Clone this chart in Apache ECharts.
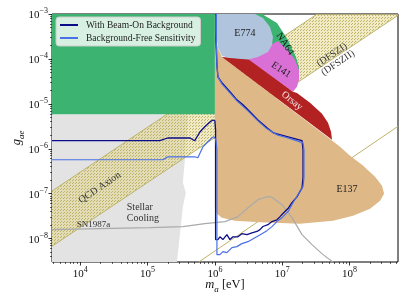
<!DOCTYPE html>
<html><head><meta charset="utf-8">
<script src="https://cdn.jsdelivr.net/npm/echarts@6/dist/echarts.min.js"></script>
<style>html,body{margin:0;padding:0;background:#fff}#c{width:407px;height:305px}</style>
</head><body><div id="c"></div>
<script>
// all values are log10(m_a / eV) and log10(g_ae)
const X_RANGE = [3.58, 8.72];
const Y_RANGE = [-8.52, -3.0];
const xMajor = [4, 5, 6, 7, 8];
const yMajor = [-8, -7, -6, -5, -4, -3];

const withBackground = [[3.58,-5.82],[5.18,-5.82],[5.30,-5.76],[5.63,-5.76],[5.70,-5.82],[5.78,-5.62],[5.85,-5.51],[5.93,-5.40],[5.97,-5.36],[6.00,-5.38],[6.01,-5.58],[6.01,-8.02],[6.045,-8.02],[6.074,-7.96],[6.119,-8.02],[6.178,-7.91],[6.223,-8.02],[6.268,-7.96],[6.342,-7.96],[6.401,-7.89],[6.476,-7.91],[6.55,-7.87],[6.625,-7.84],[6.669,-7.80],[6.714,-7.73],[6.788,-7.69],[6.848,-7.62],[6.922,-7.58],[6.967,-7.51],[7.011,-7.44],[7.086,-7.33],[7.145,-7.20],[7.219,-7.07],[7.294,-6.87],[7.309,-6.64],[7.309,-6.02],[7.294,-5.82],[7.086,-5.733],[6.922,-5.67],[6.862,-5.64],[6.773,-5.53],[6.639,-5.36],[6.491,-5.13],[6.416,-5.02],[6.327,-4.91],[6.223,-4.73],[6.104,-4.53],[6.045,-4.40],[6.03,-4.13],[6.015,-3.58],[6.015,-3.0]];
const backgroundFree = [[3.58,-6.244],[5.227,-6.244],[5.301,-6.178],[5.703,-6.178],[5.747,-6.2],[5.822,-5.956],[5.896,-5.844],[5.955,-5.756],[5.985,-5.733],[6.015,-5.8],[6.03,-6.022],[6.03,-8.356],[6.074,-8.356],[6.119,-8.289],[6.178,-8.311],[6.253,-8.2],[6.327,-8.178],[6.401,-8.111],[6.491,-8.067],[6.595,-7.978],[6.699,-7.889],[6.773,-7.822],[6.848,-7.733],[6.922,-7.622],[7.011,-7.511],[7.086,-7.4],[7.16,-7.2],[7.234,-7.022],[7.309,-6.844],[7.323,-6.644],[7.323,-6.022],[7.309,-5.867],[7.086,-5.756],[6.922,-5.689],[6.773,-5.556],[6.639,-5.378],[6.491,-5.156],[6.327,-4.933],[6.223,-4.756],[6.104,-4.556],[6.045,-4.4],[6.03,-4.133],[6.022,-3.578],[6.022,-3.0]];
const sn1987a = [[3.58,-7.8],[4.29,-7.778],[5.033,-7.756],[5.524,-7.733],[5.851,-7.667],[6.149,-7.622],[6.342,-7.511],[6.491,-7.311],[6.639,-7.133],[6.773,-7.067],[6.848,-7.078],[6.996,-7.244],[7.145,-7.533],[7.294,-7.911],[7.442,-8.133],[7.606,-8.356],[7.755,-8.52]];
const qcdUpper = [[3.58,-6.94],[7.52,-3.0]];
const qcdLower = [[3.58,-8.17],[8.72,-3.03]];
const qcdBand = [[3.58,-6.94],[7.52,-3.0],[8.72,-3.0],[8.72,-3.03],[3.58,-8.17]];
const axionLine2 = [[5.76,-8.52],[8.72,-5.5]];
const stellar = [[3.58,-5.23],[5.60,-5.23],[5.554,-6.244],[5.524,-6.756],[5.569,-6.978],[5.524,-7.289],[5.48,-7.911],[5.435,-8.52],[3.58,-8.52]];
const greenMain = [[3.58,-5.23],[6.0,-5.23],[6.0,-3.0],[3.58,-3.0]];
const e137 = [[6.0,-3.0],[6.0,-7.311],[6.03,-7.444],[6.104,-7.533],[6.297,-7.6],[6.669,-7.633],[7.264,-7.667],[7.755,-7.6],[8.052,-7.489],[8.305,-7.333],[8.454,-7.156],[8.513,-7.0],[8.483,-6.822],[8.379,-6.622],[8.186,-6.356],[8.007,-6.156],[7.859,-5.956],[7.725,-5.8],[6.104,-3.956],[6.03,-3.689],[6.0,-3.356]];
const orsay = [[6.104,-3.956],[6.52,-4.0],[7.16,-4.733],[7.219,-4.76],[7.413,-4.978],[7.591,-5.222],[7.68,-5.422],[7.725,-5.622],[7.74,-5.8]];
const na64 = [[6.52,-3.0],[6.699,-3.0],[6.922,-3.2],[7.086,-3.578],[7.204,-3.956],[7.249,-4.178],[7.249,-4.378],[7.041,-4.244],[6.669,-3.8],[6.52,-3.356]];
const e141 = [[6.491,-4.0],[6.699,-3.8],[6.848,-3.667],[6.937,-3.6],[7.086,-3.8],[7.19,-4.022],[7.249,-4.244],[7.249,-4.467],[7.219,-4.622],[7.16,-4.733]];
const e774 = [[6.03,-3.0],[6.595,-3.0],[6.714,-3.089],[6.818,-3.289],[6.862,-3.511],[6.848,-3.689],[6.788,-3.844],[6.639,-3.956],[6.491,-4.011],[6.223,-3.978],[6.104,-3.933],[6.045,-3.733],[6.03,-3.578]];

const labelTexts = ['E774','NA64','E141','Orsay','E137','(DFSZI)','(DFSZII)','QCD Axion','Stellar\nCooling','SN1987a'];
const labelAnchors = [[6.446,-3.422],[7.041,-3.667],[6.981,-4.244],[7.145,-4.933],[7.963,-6.911],[7.74,-3.911],[7.829,-4.089],[4.29,-6.867],[4.691,-7.422],[3.948,-7.689]];
const labelStyle = [
  {rot:0, color:'#222', size:10, align:'center'},
  {rot:-56, color:'#111', size:10, align:'center'},
  {rot:-33, color:'#222', size:10, align:'center'},
  {rot:-39, color:'#f6e8e8', size:10, align:'center'},
  {rot:0, color:'#222', size:10, align:'center'},
  {rot:34, color:'#333', size:10, align:'center'},
  {rot:34, color:'#333', size:10, align:'center'},
  {rot:34, color:'#333', size:10, align:'center'},
  {rot:0, color:'#333', size:10, align:'left'},
  {rot:0, color:'#333', size:9, align:'left'}
];

const FONT = 'Liberation Serif';
function minorTicks(lo, hi) {
  const out = [];
  for (let n = Math.floor(lo) - 1; n <= Math.ceil(hi); n++) {
    for (let k = 2; k <= 9; k++) {
      const v = n + Math.log10(k);
      if (v > lo && v < hi) out.push(v);
    }
  }
  return out;
}
function hatch() {
  const c = document.createElement('canvas'); c.width = 3; c.height = 3;
  const g = c.getContext('2d');
  g.fillStyle = 'rgba(226,214,140,0.5)'; g.fillRect(0, 0, 3, 3);
  g.fillStyle = 'rgba(180,168,80,0.8)'; g.fillRect(0, 0, 1, 1); g.fillRect(1, 2, 1, 1);
  return c;
}
function poly(pts, fill, z) {
  return {
    type: 'custom', z, silent: true, clip: true, data: pts,
    renderItem: (p, api) => p.dataIndex === 0 ? {
      type: 'polygon', shape: { points: pts.map(q => api.coord(q)) },
      style: { fill, stroke: 'none' }
    } : null
  };
}
function line(name, pts, color, width, z) {
  return { type: 'line', name, data: pts, z, showSymbol: false, symbol: 'none', silent: true,
    lineStyle: { color, width }, itemStyle: { color }, clip: true };
}
const tickRich = {
  b: { fontFamily: FONT, fontSize: 11, color: '#111', lineHeight: 14, verticalAlign: 'bottom' },
  s: { fontFamily: FONT, fontSize: 8, color: '#111', lineHeight: 8, verticalAlign: 'top' }
};
const chart = echarts.init(document.getElementById('c'));
chart.setOption({
  animation: false,
  grid: { left: 52, right: 9, top: 14, bottom: 43, show: true, borderColor: '#000', borderWidth: 1, backgroundColor: 'transparent', outerBoundsMode: 'none' },
  legend: {
    data: ['With Beam-On Background', 'Background-Free Sensitivity'],
    orient: 'vertical', left: 56, top: 17, icon: 'rect', itemWidth: 18, itemHeight: 2, itemGap: 3,
    backgroundColor: 'rgba(255,255,255,0.8)', borderColor: '#ccc', borderWidth: 1, borderRadius: 3,
    padding: [3, 5, 3, 4],
    textStyle: { fontFamily: FONT, fontSize: 9.5, color: '#222', padding: [0, 0, 0, 3] }
  },
  xAxis: [
    { type: 'value', min: X_RANGE[0], max: X_RANGE[1], position: 'bottom',
      name: '{i|m}{s|a}{n| [eV]}', nameLocation: 'middle', nameGap: 16, nameMoveOverlap: false,
      nameTextStyle: { rich: {
        i: { fontFamily: FONT, fontSize: 12.5, fontStyle: 'italic', color: '#111', lineHeight: 16, verticalAlign: 'top' },
        s: { fontFamily: FONT, fontSize: 9, fontStyle: 'italic', color: '#111', lineHeight: 9, verticalAlign: 'bottom' },
        n: { fontFamily: FONT, fontSize: 12.5, color: '#111', lineHeight: 16, verticalAlign: 'top' } } },
      axisLine: { show: false }, splitLine: { show: false },
      axisTick: { show: true, customValues: xMajor, length: 3.5, lineStyle: { color: '#000', width: 0.8 } },
      axisLabel: { customValues: xMajor, margin: 4, formatter: v => '{b|10}{s|' + Math.round(v) + '}', rich: tickRich } },
    { type: 'value', min: X_RANGE[0], max: X_RANGE[1], position: 'bottom',
      axisLine: { show: false }, splitLine: { show: false }, axisLabel: { show: false },
      axisTick: { show: true, customValues: minorTicks(X_RANGE[0], X_RANGE[1]), length: 2, lineStyle: { color: '#000', width: 0.6 } } }
  ],
  yAxis: [
    { type: 'value', min: Y_RANGE[0], max: Y_RANGE[1], position: 'left',
      name: '{i|g}{s|ae}', nameLocation: 'middle', nameGap: 26, nameMoveOverlap: false,
      nameTextStyle: { rich: {
        i: { fontFamily: FONT, fontSize: 12.5, fontStyle: 'italic', color: '#111', lineHeight: 16, verticalAlign: 'top' },
        s: { fontFamily: FONT, fontSize: 9, fontStyle: 'italic', color: '#111', lineHeight: 9, verticalAlign: 'bottom' } } },
      axisLine: { show: false }, splitLine: { show: false },
      axisTick: { show: true, customValues: yMajor, length: 3.5, lineStyle: { color: '#000', width: 0.8 } },
      axisLabel: { customValues: yMajor, margin: 4, formatter: v => '{b|10}{s|\u2212' + Math.abs(Math.round(v)) + '}', rich: tickRich } },
    { type: 'value', min: Y_RANGE[0], max: Y_RANGE[1], position: 'left',
      axisLine: { show: false }, splitLine: { show: false }, axisLabel: { show: false },
      axisTick: { show: true, customValues: minorTicks(Y_RANGE[0], Y_RANGE[1]), length: 2, lineStyle: { color: '#000', width: 0.6 } } }
  ],
  series: [
    poly(stellar, '#e3e3e3', 1),
    poly(qcdBand, { image: hatch(), repeat: 'repeat' }, 2),
    line('qcdU', qcdUpper, '#bdb36b', 1, 2),
    line('qcdL', qcdLower, '#bdb36b', 1, 2),
    line('axion2', axionLine2, '#bdb36b', 1, 2),
    poly(greenMain, '#3cb371', 3),
    poly(e137, '#deb887', 4),
    poly(orsay, '#b22222', 5),
    poly(na64, '#3cb371', 6),
    poly(e141, '#da70d6', 7),
    poly(e774, '#b0c4de', 8),
    line('SN1987a', sn1987a, '#aaaaaa', 1.2, 9),
    line('With Beam-On Background', withBackground, '#0c0c8a', 1.3, 10),
    line('Background-Free Sensitivity', backgroundFree, '#4a70e6', 1.2, 11),
    { type: 'custom', z: 12, silent: true, data: labelAnchors,
      renderItem: (p, api) => {
        const i = p.dataIndex, st = labelStyle[i];
        const pt = api.coord(labelAnchors[i]);
        return { type: 'text', x: pt[0], y: pt[1], rotation: st.rot * Math.PI / 180,
          style: { text: labelTexts[i], fontFamily: FONT, fontSize: st.size, fill: st.color,
            align: st.align, verticalAlign: 'middle', lineHeight: st.size + 1 } };
      } }
  ]
});
</script></body></html>
